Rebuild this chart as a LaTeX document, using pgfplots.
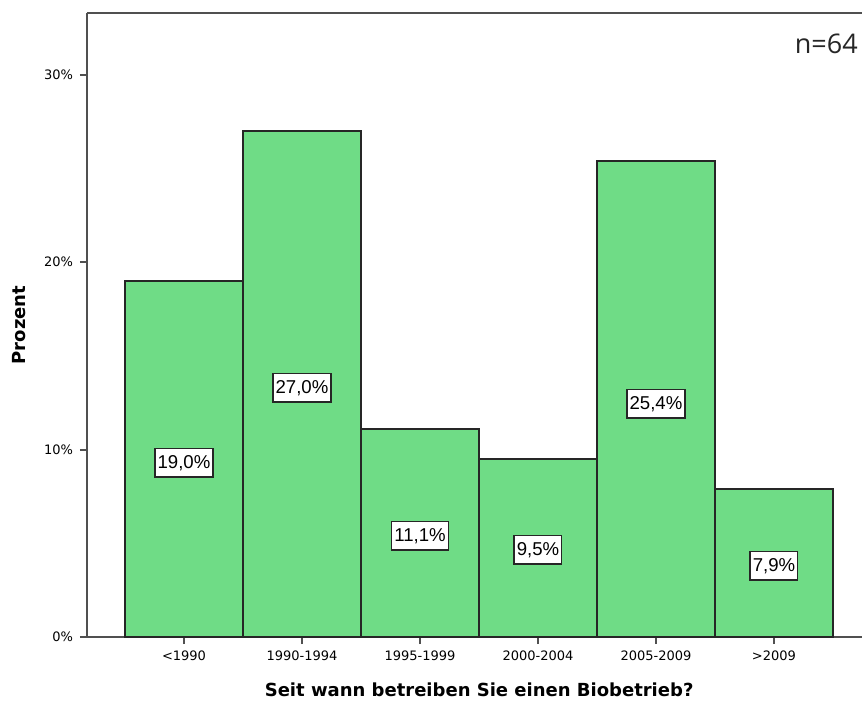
\documentclass[border=0pt]{standalone}
\usepackage{fontspec}
\setmainfont{DejaVu Sans}
\newfontfamily\lib{Liberation Sans}
\newfontfamily\opensans{Open Sans}
\usepackage{pgfplots}
\pgfplotsset{compat=1.18}
\definecolor{barg}{RGB}{111,220,134}
\definecolor{frame}{RGB}{80,80,80}
\begin{document}
\begin{tikzpicture}
\useasboundingbox (0,0) rectangle (431pt,351pt);
\begin{axis}[
  at={(43.5pt,32.5pt)}, anchor=south west,
  scale only axis, width=387.5pt, height=312pt,
  xmin=-0.822, xmax=5.746, ymin=0, ymax=33.3,
  axis x line*=box, axis y line*=left,
  xtick pos=bottom,
  axis line style={draw=frame, line width=1pt},
  tick align=outside, major tick length=3.5pt,
  tick style={draw=frame, line width=1pt},
  xtick={0,1,2,3,4,5},
  xticklabels={<1990,1990-1994,1995-1999,2000-2004,2005-2009,>2009},
  ytick={0,10,20,30},
  yticklabel={\pgfmathprintnumber{\tick}\%},
  /pgf/number format/assume math mode=true,
  tick label style={font=\fontsize{6.5}{7.5}\selectfont, text=black},
  xlabel={Seit wann betreiben Sie einen Biobetrieb?},
  ylabel={Prozent},
  label style={font=\bfseries\fontsize{9}{10}\selectfont},
  xlabel style={at={(axis description cs:0.506,0)}, anchor=center, yshift=-26.5pt},
  ylabel style={at={(axis description cs:0,0.5)}, anchor=center, yshift=33.75pt},
  clip=false,
]
\addplot[ybar, bar width=1, bar shift=0pt, fill=barg, draw=black!85, line width=0.7pt]
  coordinates {(0,19.0) (1,27.0) (2,11.1) (3,9.5) (4,25.4) (5,7.9)};
\addplot[draw=none, mark=none, nodes near coords, point meta=explicit symbolic,
  every node near coord/.append style={anchor=center, fill=white, draw=black!85, line width=0.7pt,
    font=\lib\fontsize{9.3}{10}\selectfont, text height=6.7pt, text depth=1.4pt,
    inner xsep=1.3pt, inner ysep=3pt}]
  coordinates {(0,9.3) [19,0\%] (1,13.3) [27,0\%] (2,5.4) [11,1\%] (3,4.65) [9,5\%] (4,12.45) [25,4\%] (5,3.8) [7,9\%]};
\node[anchor=east, inner sep=0pt, font=\opensans\fontsize{13.5}{15}\selectfont, text=black!85]
  at (axis description cs:0.995,0.950) {n=64};
\end{axis}
\end{tikzpicture}
\end{document}
